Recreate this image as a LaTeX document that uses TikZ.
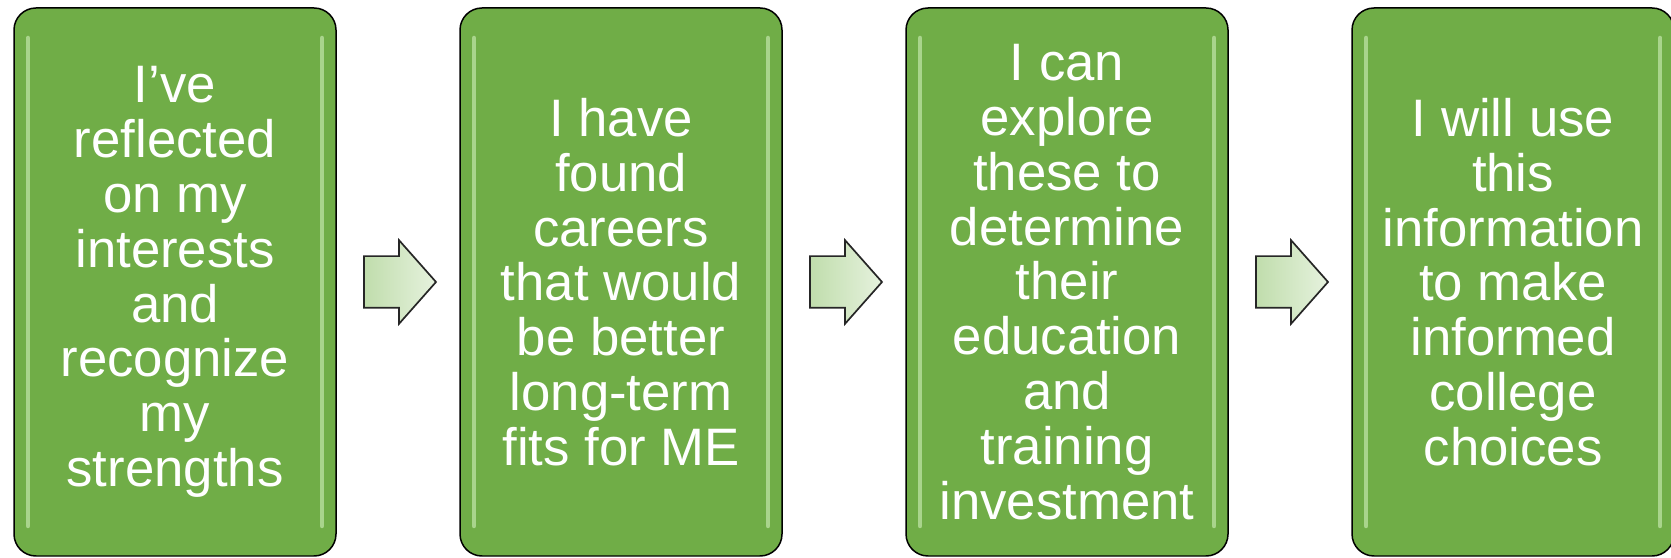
\documentclass[tikz,border=0pt]{standalone}
\usepackage{fontspec}
\setmainfont{Liberation Sans}
\usetikzlibrary{shapes.arrows, positioning}
\definecolor{cardgreen}{HTML}{70AD47}
\definecolor{cardshine}{HTML}{A9D48C}
\definecolor{arrowlight}{HTML}{E6F2DE}
\definecolor{arrowdark}{HTML}{C0DDAC}

\begin{document}
\begin{tikzpicture}[
  card/.style={rectangle,draw=black,line width=0.15mm,fill=cardgreen,rounded corners=2.2mm,
    minimum width=32.2mm,minimum height=54.8mm,inner sep=0pt,outer sep=0pt,align=center,
    text=white,font=\fontsize{15}{15.6}\selectfont,
    path picture={
      \draw[cardshine,line width=0.45mm,line cap=round]
        ([xshift=1.4mm,yshift=-3mm]path picture bounding box.north west) --
        ([xshift=1.4mm,yshift=3mm]path picture bounding box.south west);
      \draw[cardshine,line width=0.45mm,line cap=round]
        ([xshift=-1.4mm,yshift=-3mm]path picture bounding box.north east) --
        ([xshift=-1.4mm,yshift=3mm]path picture bounding box.south east);
    }},
  nxt/.style={single arrow,draw=black!85,line width=0.17mm,left color=arrowdark,right color=arrowlight,
    minimum height=7.2mm,inner xsep=0pt,inner ysep=2.5mm,single arrow head extend=1.6mm,
    single arrow tip angle=97,outer sep=0pt}
]
  \useasboundingbox (0,0) rectangle (167.1mm,55.7mm);
  \node[card](b1) at (17.5mm,27.5mm){I’ve\\reflected\\on my\\interests\\and\\recognize\\my\\strengths};
  \node[nxt,right=2.8mm of b1](a1){};
  \node[card,right=2.4mm of a1](b2){I have\\found\\careers\\that would\\be better\\long-term\\fits for ME};
  \node[nxt,right=2.8mm of b2](a2){};
  \node[card,right=2.4mm of a2](b3){I can\\explore\\these to\\determine\\their\\education\\and\\training\\investment};
  \node[nxt,right=2.8mm of b3](a3){};
  \node[card,right=2.4mm of a3](b4){I will use\\this\\information\\to make\\informed\\college\\choices};
\end{tikzpicture}
\end{document}
